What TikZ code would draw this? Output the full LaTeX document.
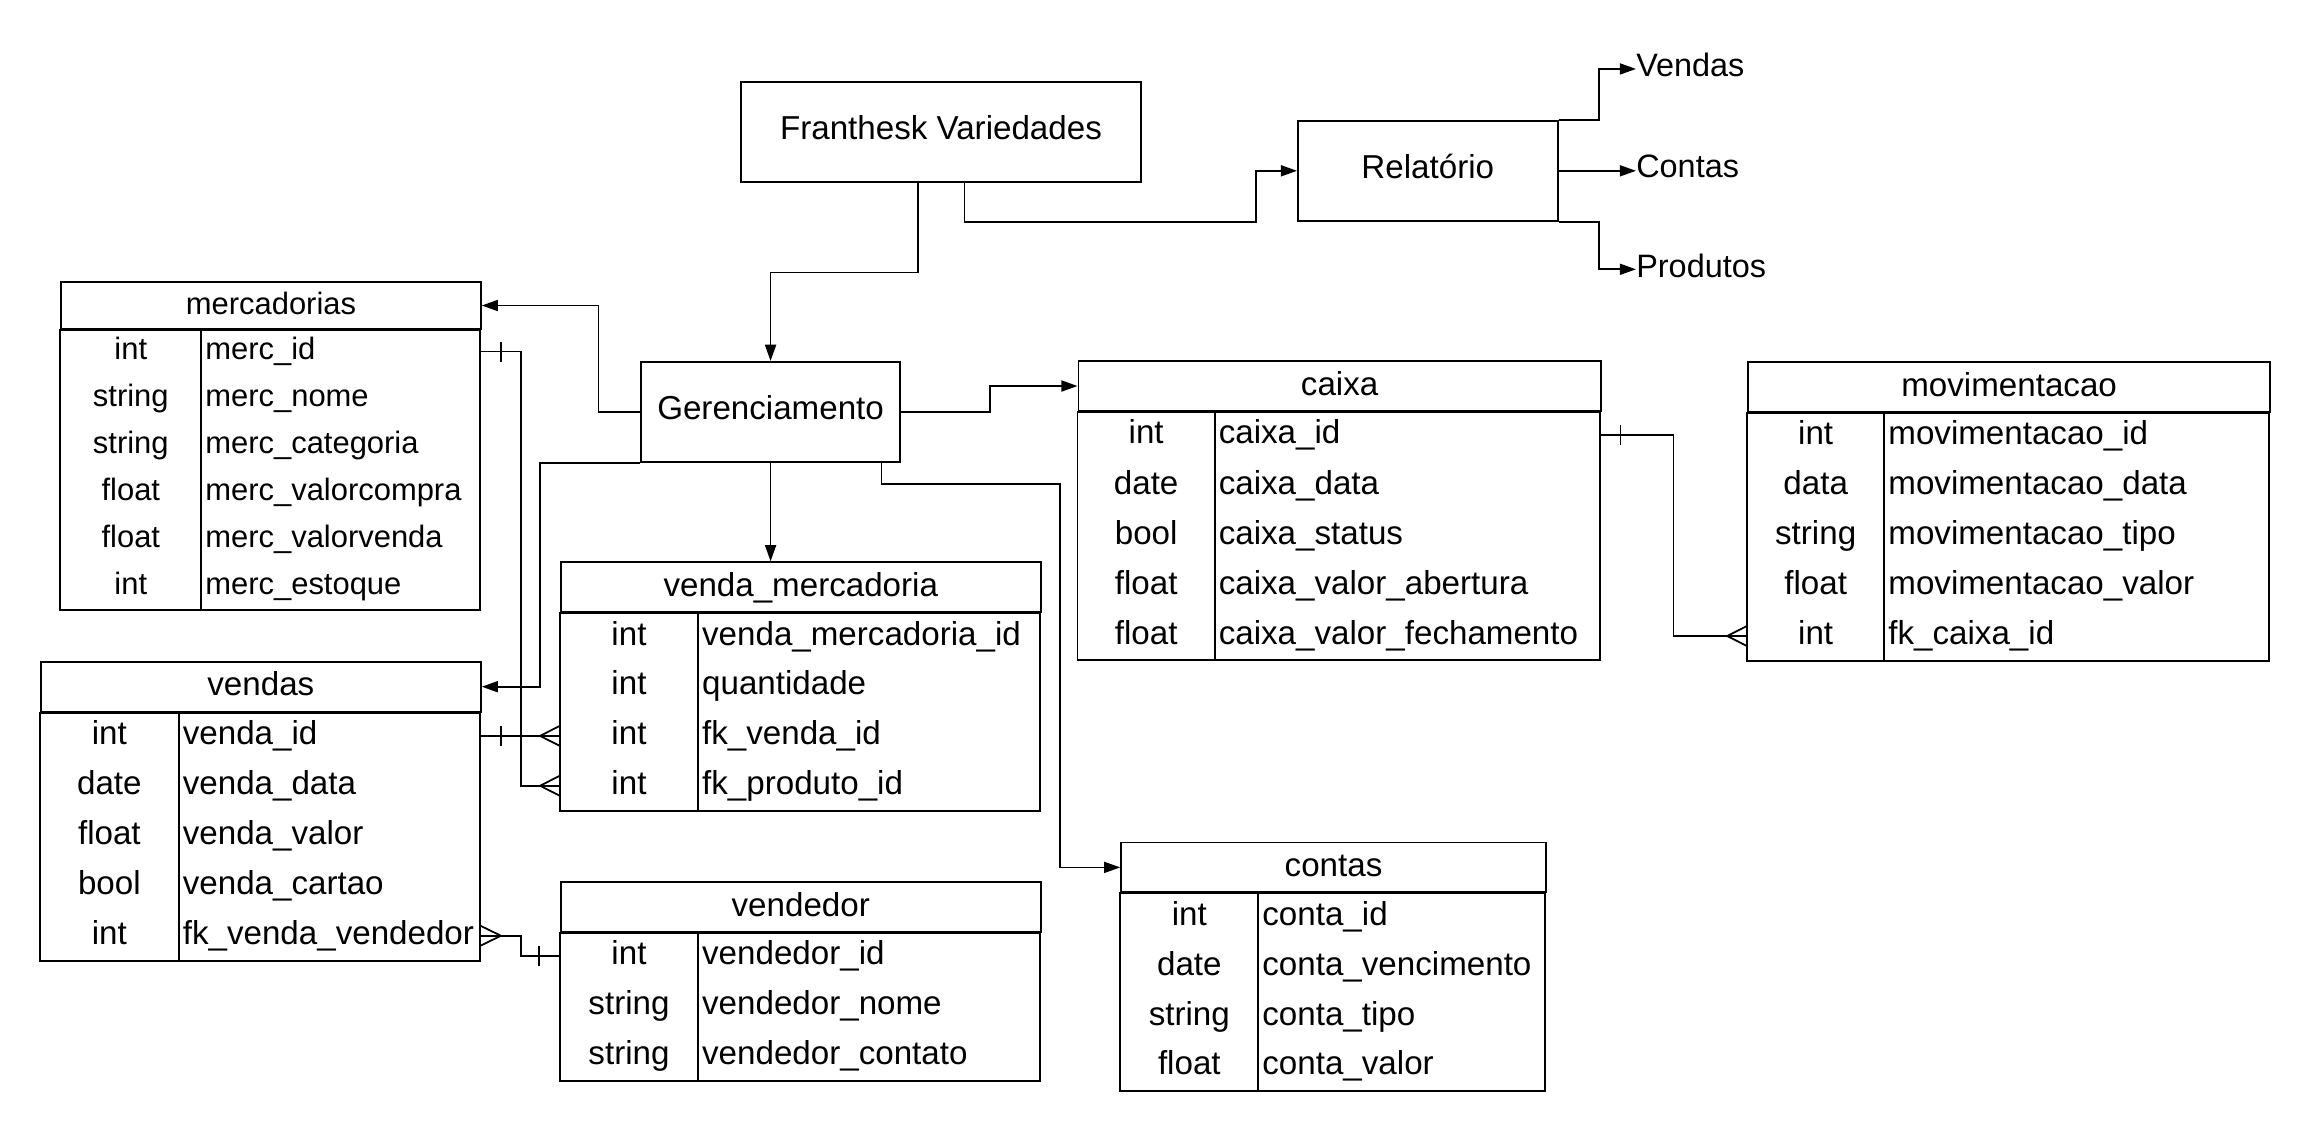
\documentclass[tikz,border=0pt]{standalone}
\usepackage{fontspec}
\setmainfont{Liberation Sans}
\usetikzlibrary{arrows.meta,calc}
\tikzset{
  big/.style={font=\fontsize{22.5}{27}\selectfont, text height=16.1pt},
  small/.style={font=\fontsize{21}{25}\selectfont, text height=15.04pt},
  lbl/.style={font=\fontsize{22}{26}\selectfont, text height=15.75pt},
  tf/.style={big},
  boxnode/.style={draw, line width=1.3pt, inner sep=0pt, anchor=north west, big, text depth=6pt},
  hdr/.style={draw, line width=1.3pt, inner sep=0pt, anchor=north west, text depth=3.5pt},
  cell/.style={inner sep=0pt, text depth=0pt},
  outlbl/.style={inner sep=0pt, anchor=west, lbl, text depth=5.3pt},
  arr/.style={line width=1.2pt, -{Triangle[length=11pt,width=7.5pt]}},
  erline/.style={line width=1.2pt},
}
% #1 name, #2 xl, #3 xr, #4 xd, #5 ytop, #6 rowh, #7 title, #8 rows
\newcommand\dbtable[8]{%
  \pgfmathsetmacro\tw{#3-#2}%
  \node[hdr, tf, minimum width=\tw pt, minimum height=#6 pt] (#1) at (#2,#5) {#7};
  \foreach [count=\i] \ty/\fn in {#8} {
    \pgfmathsetmacro\yc{#5+#6*(\i+0.5)}
    \node[minimum width=\tw pt, minimum height=#6 pt, inner sep=0pt, anchor=west] (#1-\i) at (#2,\yc) {};
    \node[cell, tf] (#1-\i-t) at ({(#2+#4)/2},\yc-2) {\ty};
    \node[cell, tf, anchor=west] (#1-\i-f) at (#4+2.5,\yc-2) {\fn};
    \xdef\nrows{\i}
  }
  \draw[line width=1.3pt] (#1.south west) rectangle (#3,{#5+#6*(\nrows+1)});
  \draw[line width=1.3pt] (#4,#5+#6) -- (#4,{#5+#6*(\nrows+1)});
}
\newcommand\erbar[2]{\draw[erline] ($(#1)+(#2,-6.8)$) -- ++(0,13.6);}
\newcommand\ercrow[2]{\draw[erline] ($(#1)+(0,-6.8)$) -- ($(#1)+(#2,0)$) -- ($(#1)+(0,6.8)$);}
\begin{document}
\begin{tikzpicture}[x=1pt,y=-1pt]
\useasboundingbox (0,0) rectangle (1568,768);

% main boxes
\node[boxnode, minimum width=271.7pt, minimum height=67.9pt] (fr) at (502.2,55) {Franthesk Variedades};
\node[boxnode, minimum width=176.2pt, minimum height=68.2pt] (rel) at (880.4,81.2) {Relatório};
\node[boxnode, minimum width=176.2pt, minimum height=68pt] (ger) at (434.3,245) {Gerenciamento};

% report labels
\node[outlbl] (lv) at (1110.5,46.8) {Vendas};
\node[outlbl] (lc) at (1110.5,115.3) {Contas};
\node[outlbl] (lp) at (1110.5,182.8) {Produtos};

% tables
\tikzset{tf/.style={small}}
\dbtable{merc}{40.9}{325.7}{136.7}{190.8}{31.87}{mercadorias}{int/merc\_id, string/merc\_nome, string/merc\_categoria, float/merc\_valorcompra, float/merc\_valorvenda, int/merc\_estoque}
\tikzset{tf/.style={big}}
\dbtable{vendas}{27.1}{325.7}{121.4}{448.5}{33.94}{vendas}{int/venda\_id, date/venda\_data, float/venda\_valor, bool/venda\_cartao, int/fk\_venda\_vendedor}
\dbtable{vm}{380}{705.8}{473.9}{381}{33.86}{venda\_mercadoria}{int/venda\_mercadoria\_id, int/quantidade, int/fk\_venda\_id, int/fk\_produto\_id}
\dbtable{vend}{380}{705.8}{473.9}{597.9}{33.95}{vendedor}{int/vendedor\_id, string/vendedor\_nome, string/vendedor\_contato}
\dbtable{caixa}{731.4}{1086}{824.6}{244.4}{33.95}{caixa}{int/caixa\_id, date/caixa\_data, bool/caixa\_status, float/caixa\_valor\_abertura, float/caixa\_valor\_fechamento}
\dbtable{mov}{1185.8}{1540.4}{1279.1}{245.1}{33.93}{movimentacao}{int/movimentacao\_id, data/movimentacao\_data, string/movimentacao\_tipo, float/movimentacao\_valor, int/fk\_caixa\_id}
\dbtable{contas}{760.4}{1048.7}{854.2}{571.2}{33.86}{contas}{int/conta\_id, date/conta\_vencimento, string/conta\_tipo, float/conta\_valor}

% flow arrows
\draw[arr] ([xshift=-15.6pt]fr.south) -- ++(0,60.8) -| (ger.north);
\draw[arr] ([xshift=16pt]fr.south) |- (852.4,150.7) |- (rel.west);
\draw[arr] (rel.north east) -- ++(27.6,0) |- (lv.west);
\draw[arr] (rel.east) -- (rel.east -| lc.west);
\draw[arr] (rel.south east) -- ++(27.6,0) |- (lp.west);
\draw[arr] (ger.west) -- ++(-28.1,0) |- (merc.east);
\draw[arr] (ger.east) -- ++(60.1,0) |- (caixa.west);
\draw[arr] (ger.south) -- (ger.south |- vm.north);
\draw[arr] (ger.south west) -- ++(-67.6,0) |- (vendas.east);
\draw[arr] ([xshift=75.3pt]ger.south) |- (719.3,328.4) |- (contas.west);

% ER relations
\draw[erline] (merc-1.east) -- ++(27.3,0) |- (vm-4.west);
\erbar{merc-1.east}{13.9}
\ercrow{vm-4.west}{-13.4}

\draw[erline] (vendas-1.east) -- (vendas-1.east -| vm-3.west);
\erbar{vendas-1.east}{13.9}
\ercrow{vm-3.west}{-13.4}

\draw[erline] (vendas-5.east) -- ++(27.3,0) |- (vend-1.west);
\ercrow{vendas-5.east}{13.9}
\erbar{vend-1.west}{-14}

\draw[erline] (caixa-1.east) -- ++(49.6,0) |- (mov-5.west);
\erbar{caixa-1.east}{13.5}
\ercrow{mov-5.west}{-13.4}
\end{tikzpicture}
\end{document}
